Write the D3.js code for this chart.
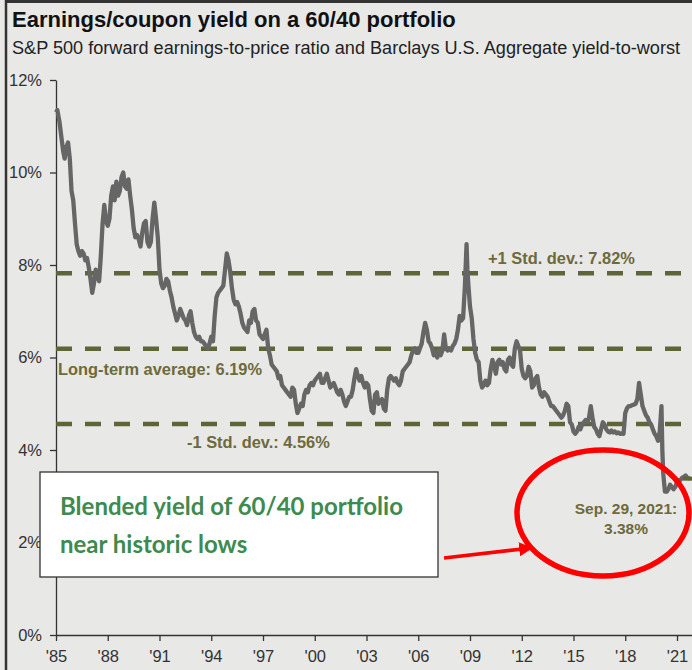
<!DOCTYPE html>
<html>
<head>
<meta charset="utf-8">
<script src="https://cdn.jsdelivr.net/npm/d3@7"></script>
<style>
  body { margin: 0; background: #e8e8e6; }
  svg { display: block; font-family: "Liberation Sans", Arial, sans-serif; }
</style>
</head>
<body>
<script>
var width = 692,
    height = 670;

// [year, yield %]
var series = [
  [1985.0, 11.3], [1985.08, 11.35], [1985.2, 11.1], [1985.3, 10.8], [1985.42, 10.45], [1985.5, 10.3],
  [1985.6, 10.55], [1985.7, 10.65], [1985.8, 10.3], [1985.9, 9.6], [1986.0, 9.4], [1986.1, 8.9],
  [1986.2, 8.45], [1986.3, 8.3], [1986.4, 8.2], [1986.5, 8.3], [1986.6, 8.25], [1986.7, 8.1],
  [1986.8, 8.15], [1986.9, 7.95], [1987.0, 7.7], [1987.1, 7.4], [1987.2, 7.6], [1987.3, 7.9],
  [1987.4, 7.75], [1987.5, 7.65], [1987.6, 8.2], [1987.7, 8.9], [1987.8, 9.3], [1987.9, 8.95],
  [1988.0, 8.85], [1988.1, 9.0], [1988.2, 9.5], [1988.3, 9.7], [1988.4, 9.4], [1988.5, 9.8],
  [1988.6, 9.5], [1988.7, 9.6], [1988.8, 9.9], [1988.9, 10.0], [1989.0, 9.7], [1989.1, 9.65],
  [1989.2, 9.85], [1989.3, 9.5], [1989.4, 9.2], [1989.5, 8.8], [1989.6, 8.6], [1989.7, 8.65],
  [1989.8, 8.55], [1989.9, 8.4], [1990.0, 8.7], [1990.1, 8.9], [1990.2, 8.95], [1990.3, 8.5],
  [1990.4, 8.4], [1990.5, 8.5], [1990.6, 9.0], [1990.7, 9.35], [1990.8, 9.0], [1990.9, 8.6],
  [1991.0, 7.9], [1991.1, 7.6], [1991.2, 7.5], [1991.3, 7.55], [1991.4, 7.7], [1991.5, 7.65],
  [1991.6, 7.45], [1991.7, 7.3], [1991.8, 7.1], [1991.9, 6.95], [1992.0, 6.8], [1992.1, 6.9],
  [1992.2, 7.05], [1992.3, 6.95], [1992.4, 6.85], [1992.5, 6.8], [1992.6, 6.7], [1992.7, 6.9],
  [1992.8, 7.0], [1992.9, 6.75], [1993.0, 6.55], [1993.1, 6.45], [1993.2, 6.4], [1993.3, 6.45],
  [1993.4, 6.35], [1993.5, 6.35], [1993.6, 6.3], [1993.7, 6.25], [1993.8, 6.2], [1993.9, 6.3],
  [1994.0, 6.45], [1994.1, 6.35], [1994.2, 6.9], [1994.3, 7.3], [1994.4, 7.4], [1994.5, 7.45],
  [1994.6, 7.5], [1994.7, 7.55], [1994.8, 7.9], [1994.9, 8.25], [1995.0, 8.1], [1995.1, 7.85],
  [1995.2, 7.5], [1995.3, 7.25], [1995.4, 7.15], [1995.5, 7.2], [1995.6, 7.1], [1995.7, 6.95],
  [1995.8, 6.75], [1995.9, 6.65], [1996.0, 6.6], [1996.1, 6.55], [1996.2, 6.8], [1996.3, 6.75],
  [1996.4, 7.0], [1996.5, 7.05], [1996.6, 6.8], [1996.7, 6.75], [1996.8, 6.5], [1996.9, 6.45],
  [1997.0, 6.4], [1997.1, 6.5], [1997.2, 6.6], [1997.3, 6.2], [1997.4, 6.05], [1997.5, 5.85],
  [1997.6, 5.8], [1997.7, 5.75], [1997.8, 5.7], [1997.9, 5.55], [1998.0, 5.6], [1998.1, 5.4],
  [1998.2, 5.35], [1998.3, 5.3], [1998.4, 5.25], [1998.5, 5.2], [1998.6, 5.15], [1998.7, 5.35],
  [1998.8, 5.3], [1998.9, 5.0], [1999.0, 4.8], [1999.1, 4.9], [1999.2, 5.0], [1999.3, 4.95],
  [1999.4, 5.2], [1999.5, 5.3], [1999.6, 5.25], [1999.7, 5.4], [1999.8, 5.45], [1999.9, 5.4],
  [2000.0, 5.5], [2000.1, 5.55], [2000.2, 5.6], [2000.3, 5.65], [2000.4, 5.45], [2000.5, 5.45],
  [2000.6, 5.55], [2000.7, 5.65], [2000.8, 5.5], [2000.9, 5.35], [2001.0, 5.4], [2001.1, 5.45],
  [2001.2, 5.35], [2001.3, 5.25], [2001.4, 5.2], [2001.5, 5.3], [2001.6, 5.2], [2001.7, 5.05],
  [2001.8, 4.95], [2001.9, 5.05], [2002.0, 5.15], [2002.1, 5.15], [2002.2, 5.3], [2002.3, 5.55],
  [2002.4, 5.75], [2002.5, 5.6], [2002.6, 5.5], [2002.7, 5.6], [2002.8, 5.45], [2002.9, 5.35],
  [2003.0, 5.45], [2003.1, 5.4], [2003.2, 5.1], [2003.3, 4.85], [2003.4, 4.8], [2003.5, 5.2],
  [2003.6, 5.25], [2003.7, 5.0], [2003.8, 5.05], [2003.9, 5.1], [2004.0, 4.9], [2004.1, 4.85],
  [2004.2, 5.3], [2004.3, 5.55], [2004.4, 5.6], [2004.5, 5.55], [2004.6, 5.5], [2004.7, 5.55],
  [2004.8, 5.45], [2004.9, 5.4], [2005.0, 5.5], [2005.1, 5.7], [2005.2, 5.75], [2005.3, 5.8],
  [2005.4, 5.85], [2005.5, 5.9], [2005.6, 6.05], [2005.7, 6.15], [2005.8, 6.2], [2005.9, 6.1],
  [2006.0, 6.1], [2006.1, 6.2], [2006.2, 6.3], [2006.3, 6.55], [2006.4, 6.75], [2006.5, 6.6],
  [2006.6, 6.35], [2006.7, 6.3], [2006.8, 6.2], [2006.9, 6.05], [2007.0, 6.1], [2007.1, 6.0],
  [2007.2, 6.15], [2007.3, 6.05], [2007.4, 6.15], [2007.5, 6.5], [2007.6, 6.2], [2007.7, 6.15],
  [2007.8, 6.2], [2007.9, 6.15], [2008.0, 6.25], [2008.1, 6.3], [2008.2, 6.4], [2008.3, 6.6],
  [2008.4, 6.9], [2008.5, 6.8], [2008.6, 6.85], [2008.7, 7.5], [2008.8, 8.45], [2008.85, 7.9],
  [2008.9, 7.6], [2009.0, 7.1], [2009.1, 6.85], [2009.2, 6.4], [2009.3, 6.1], [2009.4, 5.95],
  [2009.5, 5.9], [2009.6, 5.5], [2009.7, 5.35], [2009.8, 5.4], [2009.9, 5.5], [2010.0, 5.4],
  [2010.1, 5.45], [2010.2, 5.75], [2010.3, 5.95], [2010.4, 5.8], [2010.5, 5.65], [2010.6, 5.9],
  [2010.7, 5.95], [2010.8, 5.85], [2010.9, 5.9], [2011.0, 5.75], [2011.1, 5.7], [2011.2, 5.95],
  [2011.3, 6.0], [2011.4, 5.85], [2011.5, 5.8], [2011.6, 6.2], [2011.7, 6.35], [2011.8, 6.25],
  [2011.9, 6.15], [2012.0, 5.75], [2012.1, 5.6], [2012.2, 5.55], [2012.3, 5.6], [2012.4, 5.8],
  [2012.5, 5.7], [2012.6, 5.35], [2012.7, 5.4], [2012.8, 5.55], [2012.9, 5.6], [2013.0, 5.35],
  [2013.1, 5.2], [2013.2, 5.15], [2013.3, 5.25], [2013.4, 5.2], [2013.5, 5.15], [2013.6, 5.05],
  [2013.7, 4.95], [2013.8, 4.95], [2013.9, 4.9], [2014.0, 4.85], [2014.1, 4.8], [2014.2, 4.75],
  [2014.3, 4.7], [2014.4, 4.75], [2014.5, 4.85], [2014.6, 5.0], [2014.7, 4.95], [2014.8, 4.6],
  [2014.9, 4.55], [2015.0, 4.4], [2015.1, 4.35], [2015.2, 4.4], [2015.3, 4.5], [2015.4, 4.45],
  [2015.5, 4.55], [2015.6, 4.6], [2015.7, 4.65], [2015.8, 4.6], [2015.9, 4.7], [2016.0, 4.95],
  [2016.1, 4.7], [2016.2, 4.5], [2016.3, 4.45], [2016.4, 4.35], [2016.5, 4.3], [2016.6, 4.45],
  [2016.7, 4.6], [2016.8, 4.55], [2016.9, 4.45], [2017.0, 4.4], [2017.1, 4.38], [2017.2, 4.42],
  [2017.3, 4.38], [2017.4, 4.4], [2017.5, 4.36], [2017.6, 4.38], [2017.7, 4.35], [2017.8, 4.36],
  [2017.9, 4.35], [2018.0, 4.8], [2018.1, 4.9], [2018.2, 4.95], [2018.3, 4.95], [2018.4, 4.97],
  [2018.5, 4.98], [2018.6, 5.0], [2018.7, 5.1], [2018.8, 5.45], [2018.9, 5.2], [2019.0, 4.95],
  [2019.1, 4.85], [2019.2, 4.75], [2019.3, 4.7], [2019.4, 4.6], [2019.5, 4.55], [2019.6, 4.45],
  [2019.7, 4.35], [2019.8, 4.3], [2019.9, 4.2], [2020.0, 4.4], [2020.1, 4.95], [2020.15, 4.0],
  [2020.2, 3.5], [2020.3, 3.1], [2020.4, 3.1], [2020.5, 3.15], [2020.6, 3.25], [2020.7, 3.2],
  [2020.8, 3.15], [2020.9, 3.2], [2021.0, 3.3], [2021.1, 3.35], [2021.2, 3.35], [2021.3, 3.4],
  [2021.4, 3.42], [2021.5, 3.45], [2021.6, 3.4], [2021.75, 3.38]
];

var yTicks = [0, 2, 4, 6, 8, 10, 12];
var xTicks = [1985, 1988, 1991, 1994, 1997, 2000, 2003, 2006, 2009, 2012, 2015, 2018, 2021];
var xTickLabels = ["'85", "'88", "'91", "'94", "'97", "'00", "'03", "'06", "'09", "'12", "'15", "'18", "'21"];
var refValues = [7.82, 6.19, 4.56];
var refLabels = ["+1 Std. dev.: 7.82%", "Long-term average: 6.19%", "-1 Std. dev.: 4.56%"];
var lastDate = 2021.75, lastValue = 3.38;
var lastLabel = ["Sep. 29, 2021:", "3.38%"];
var calloutLines = ["Blended yield of 60/40 portfolio", "near historic lows"];

var svg = d3.select("body").append("svg")
    .attr("width", width)
    .attr("height", height);

svg.append("rect").attr("width", width).attr("height", height).attr("fill", "#e8e8e6");

// frame on top and left
svg.append("line").attr("x1", 5).attr("y1", 1.5).attr("x2", width).attr("y2", 1.5)
    .attr("stroke", "#333").attr("stroke-width", 3);
svg.append("line").attr("x1", 6).attr("y1", 0).attr("x2", 6).attr("y2", height)
    .attr("stroke", "#333").attr("stroke-width", 2.5);

// titles
svg.append("text").attr("x", 12).attr("y", 27)
    .attr("font-size", 22).attr("font-weight", "bold").attr("fill", "#111")
    .text("Earnings/coupon yield on a 60/40 portfolio");
svg.append("text").attr("x", 12).attr("y", 54)
    .attr("font-size", 17.5).attr("fill", "#222")
    .attr("textLength", 668).attr("lengthAdjust", "spacingAndGlyphs")
    .text("S&P 500 forward earnings-to-price ratio and Barclays U.S. Aggregate yield-to-worst");

var plotLeft = 56, plotBottom = 635, plotTop = 80;

// x runs a bit past '21 to the right edge
var x = d3.scaleLinear()
    .domain([1985, 1985 + (width - plotLeft) / 17.25])
    .range([plotLeft, width]);
var y = d3.scaleLinear()
    .domain([0, 12])
    .range([plotBottom, plotTop]);

var xAxis = d3.axisBottom(x)
    .tickValues(xTicks)
    .tickFormat(function(d, i) { return xTickLabels[i]; })
    .tickSizeInner(6).tickSizeOuter(0).tickPadding(9);
var yAxis = d3.axisLeft(y)
    .tickValues(yTicks)
    .tickFormat(function(d) { return d + "%"; })
    .tickSizeInner(6).tickSizeOuter(0).tickPadding(8);

var gx = svg.append("g").attr("transform", "translate(0," + plotBottom + ")").call(xAxis);
var gy = svg.append("g").attr("transform", "translate(" + plotLeft + ",0)").call(yAxis);
[gx, gy].forEach(function(g) {
  g.selectAll("path, line").attr("stroke", "#333").attr("stroke-width", 1.3);
  g.selectAll("text").attr("font-family", "Liberation Sans, Arial, sans-serif")
    .attr("font-size", 16.5).attr("fill", "#333");
});

// reference lines
var olive = "#5f6537";
svg.selectAll(".ref").data(refValues).enter().append("line")
    .attr("x1", plotLeft).attr("x2", width)
    .attr("y1", function(d) { return y(d); })
    .attr("y2", function(d) { return y(d); })
    .attr("stroke", olive).attr("stroke-width", 4.5)
    .attr("stroke-dasharray", "16,13");

// series
var line = d3.line()
    .x(function(d) { return x(d[0]); })
    .y(function(d) { return y(d[1]); });
svg.append("path")
    .attr("d", line(series))
    .attr("fill", "none")
    .attr("stroke", "#666")
    .attr("stroke-width", 4.3)
    .attr("stroke-linejoin", "round");

// reference labels
var refPos = [[488, -9], [58, 26], [187, 24]];
svg.selectAll(".reflabel").data(refLabels).enter().append("text")
    .attr("x", function(d, i) { return refPos[i][0]; })
    .attr("y", function(d, i) { return y(refValues[i]) + refPos[i][1]; })
    .attr("font-size", 16.4).attr("font-weight", "bold").attr("fill", "#6d6a3b")
    .text(function(d) { return d; });

// latest value marker and label
svg.append("line")
    .attr("x1", x(lastDate) - 7).attr("x2", width)
    .attr("y1", y(lastValue)).attr("y2", y(lastValue))
    .attr("stroke", olive).attr("stroke-width", 4);
svg.append("text").attr("text-anchor", "middle")
    .attr("font-size", 15.5).attr("font-weight", "bold").attr("fill", "#6d6a3b")
    .selectAll("tspan").data(lastLabel).enter().append("tspan")
    .attr("x", 626)
    .attr("y", function(d, i) { return 514 + i * 20; })
    .text(function(d) { return d; });

// red circle
svg.append("ellipse")
    .attr("cx", 603).attr("cy", 513).attr("rx", 86).attr("ry", 63)
    .attr("fill", "none").attr("stroke", "#ff0000").attr("stroke-width", 5.5);

// callout box
svg.append("rect")
    .attr("x", 40).attr("y", 472).attr("width", 398).attr("height", 105)
    .attr("fill", "#fff").attr("stroke", "#333").attr("stroke-width", 1.3);
var callout = svg.append("text")
    .attr("font-family", "Lato, 'Open Sans', sans-serif")
    .attr("font-weight", "bold").attr("font-size", 24).attr("fill", "#3e8a4f");
callout.selectAll("tspan").data(calloutLines).enter().append("tspan")
    .attr("x", 60)
    .attr("y", function(d, i) { return 515 + i * 38; })
    .text(function(d) { return d; });

// arrow
svg.append("defs").append("marker")
    .attr("id", "head").attr("viewBox", "0 0 10 10")
    .attr("refX", 2).attr("refY", 5)
    .attr("markerWidth", 4).attr("markerHeight", 4)
    .attr("orient", "auto")
    .append("path").attr("d", "M0,0L10,5L0,10Z").attr("fill", "#ff0000");
svg.append("line")
    .attr("x1", 444).attr("y1", 558).attr("x2", 522).attr("y2", 549)
    .attr("stroke", "#ff0000").attr("stroke-width", 3.5)
    .attr("marker-end", "url(#head)");
</script>
</body>
</html>
